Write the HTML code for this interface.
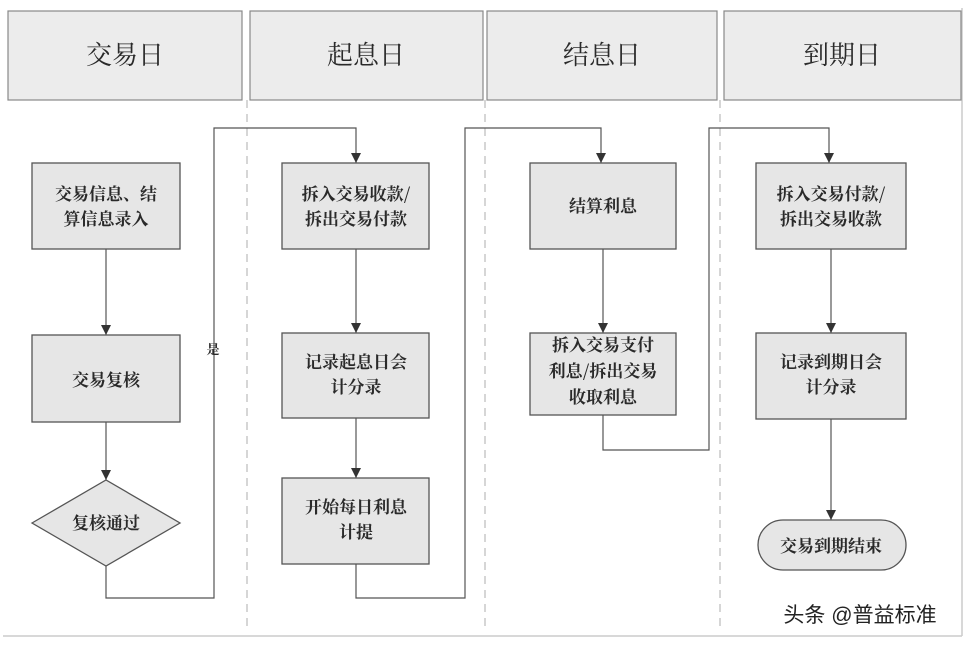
<!DOCTYPE html>
<html><head><meta charset="utf-8"><style>
html,body{margin:0;padding:0;background:#fff;}
svg{display:block;}
text{font-family:"Noto Serif CJK SC","Liberation Serif",serif;fill:#2a2a2a;}
</style></head><body>
<svg width="969" height="646" viewBox="0 0 969 646" xmlns="http://www.w3.org/2000/svg">
<defs><marker id="a" markerWidth="10" markerHeight="10" refX="10" refY="5" orient="auto" markerUnits="userSpaceOnUse"><path d="M0,0 L10,5 L0,10 z" fill="#333"/></marker></defs>
<rect x="0" y="0" width="969" height="646" fill="#fff"/>
<line x1="3" y1="636" x2="962" y2="636" stroke="#ccc" stroke-width="1.5"/>
<line x1="962" y1="8" x2="962" y2="636" stroke="#ccc" stroke-width="1.5"/>
<g stroke="#bbb" stroke-dasharray="8,6" stroke-width="1.2">
<line x1="247" y1="100" x2="247" y2="632"/>
<line x1="485" y1="100" x2="485" y2="632"/>
<line x1="720" y1="100" x2="720" y2="632"/>
</g>
<g fill="#ececec" stroke="#888" stroke-width="1.2">
<rect x="8" y="11" width="234" height="89"/>
<rect x="250" y="11" width="233" height="89"/>
<rect x="487" y="11" width="230" height="89"/>
<rect x="724" y="11" width="237" height="89"/>
</g>
<g font-size="26" text-anchor="middle">
<text x="125" y="64">交易日</text>
<text x="366" y="64">起息日</text>
<text x="602" y="64">结息日</text>
<text x="842" y="64">到期日</text>
</g>
<g stroke="#555" stroke-width="1.2" fill="none">
<line x1="106" y1="249" x2="106" y2="335" marker-end="url(#a)"/>
<line x1="106" y1="422" x2="106" y2="480" marker-end="url(#a)"/>
<polyline points="106,566 106,598 214,598 214,128 356,128 356,163" marker-end="url(#a)"/>
<line x1="356" y1="249" x2="356" y2="333" marker-end="url(#a)"/>
<line x1="356" y1="418" x2="356" y2="478" marker-end="url(#a)"/>
<polyline points="356,564 356,598 465,598 465,128 601,128 601,163" marker-end="url(#a)"/>
<line x1="603" y1="249" x2="603" y2="333" marker-end="url(#a)"/>
<polyline points="603,415 603,450 709,450 709,128 829,128 829,163" marker-end="url(#a)"/>
<line x1="831" y1="249" x2="831" y2="333" marker-end="url(#a)"/>
<line x1="831" y1="419" x2="831" y2="520" marker-end="url(#a)"/>
</g>
<g fill="#e6e6e6" stroke="#555" stroke-width="1.3">
<rect x="32" y="163" width="148" height="86"/>
<rect x="32" y="335" width="148" height="87"/>
<polygon points="32,523 106,480 180,523 106,566"/>
<rect x="282" y="163" width="147" height="86"/>
<rect x="282" y="333" width="147" height="85"/>
<rect x="282" y="478" width="147" height="86"/>
<rect x="530" y="163" width="146" height="86"/>
<rect x="530" y="333" width="146" height="82"/>
<rect x="756" y="163" width="150" height="86"/>
<rect x="756" y="333" width="150" height="86"/>
<rect x="758" y="520" width="148" height="50" rx="25"/>
</g>
<g font-size="17" text-anchor="middle" font-weight="bold">
<text x="106" y="200">交易信息、结</text>
<text x="106" y="225">算信息录入</text>
<text x="106" y="386">交易复核</text>
<text x="106" y="529">复核通过</text>
<text x="356" y="200">拆入交易收款/</text>
<text x="356" y="225">拆出交易付款</text>
<text x="356" y="368">记录起息日会</text>
<text x="356" y="393">计分录</text>
<text x="356" y="513">开始每日利息</text>
<text x="356" y="538">计提</text>
<text x="603" y="212">结算利息</text>
<text x="603" y="351">拆入交易支付</text>
<text x="603" y="377">利息/拆出交易</text>
<text x="603" y="403">收取利息</text>
<text x="831" y="200">拆入交易付款/</text>
<text x="831" y="225">拆出交易收款</text>
<text x="831" y="368">记录到期日会</text>
<text x="831" y="393">计分录</text>
<text x="831" y="552">交易到期结束</text>
<text x="213" y="354" font-size="13">是</text>
</g>
<text x="860" y="622" font-size="21" text-anchor="middle" style="font-family:'Liberation Sans','Noto Sans CJK SC',sans-serif;fill:#222">头条 @普益标准</text>
</svg>
</body></html>
